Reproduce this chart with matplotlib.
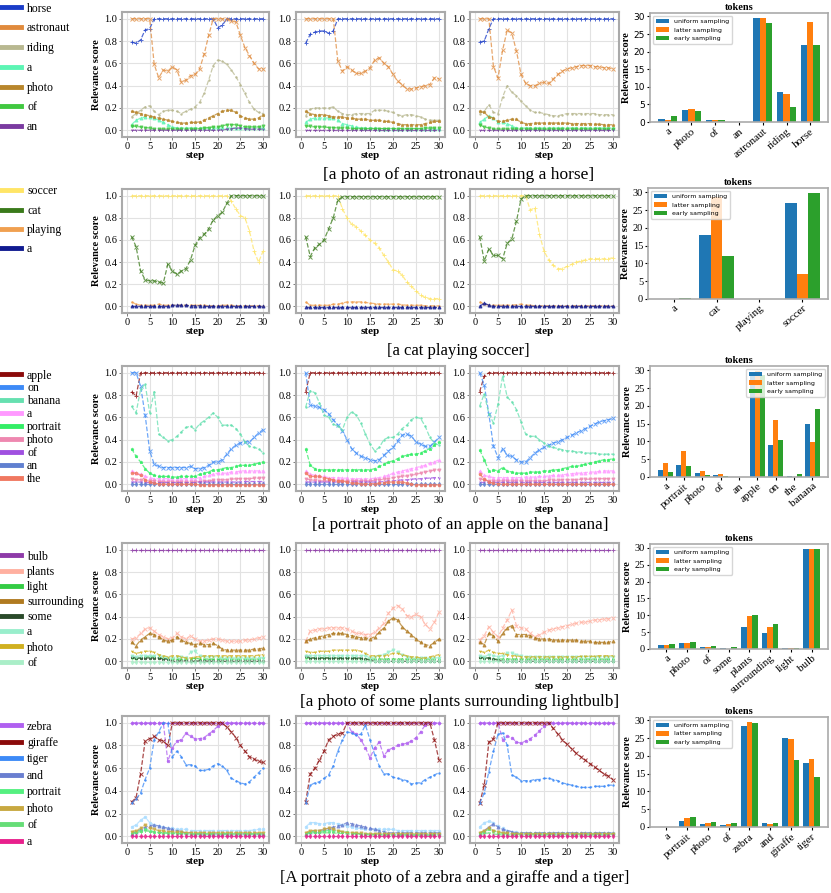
import matplotlib
matplotlib.use('Agg')
import matplotlib.pyplot as plt
from matplotlib.lines import Line2D

plt.rcParams['font.family'] = ['Liberation Serif', 'DejaVu Serif']

steps = list(range(1, 31))

# ---------------- row 1: a photo of an astronaut riding a horse
r1_tokens = ['horse', 'astronaut', 'riding', 'a', 'photo', 'of', 'an']
r1_colors = ['#1a3cc8', '#e08a3c', '#b8b890', '#5cf5b4', '#b8862c', '#40c840', '#7a3aa0']
r1_p1 = [
    [0.79, 0.78, 0.81, 0.90, 0.91, 1, 1, 1, 1, 1, 1, 1, 1, 1, 1, 1, 1, 1, 1, 0.92, 0.94, 1, 1, 1, 1, 1, 1, 1, 1, 1],
    [1, 1, 1, 1, 1, 0.59, 0.47, 0.54, 0.53, 0.57, 0.54, 0.43, 0.45, 0.49, 0.50, 0.55, 0.68, 0.85, 1, 1, 1, 1, 0.98, 0.97, 0.85, 0.74, 0.67, 0.60, 0.55, 0.55],
    [0.12, 0.15, 0.18, 0.21, 0.22, 0.17, 0.14, 0.17, 0.18, 0.18, 0.17, 0.15, 0.17, 0.19, 0.21, 0.25, 0.33, 0.45, 0.58, 0.63, 0.62, 0.59, 0.54, 0.48, 0.41, 0.33, 0.25, 0.19, 0.16, 0.15],
    [0.05, 0.09, 0.11, 0.12, 0.12, 0.11, 0.09, 0.07, 0.05, 0.03, 0.02, 0.02, 0.02, 0.02, 0.02, 0.02, 0.02, 0.02, 0.02, 0.02, 0.02, 0.02, 0.02, 0.02, 0.02, 0.02, 0.02, 0.02, 0.02, 0.02],
    [0.17, 0.16, 0.15, 0.14, 0.13, 0.12, 0.11, 0.10, 0.09, 0.08, 0.07, 0.065, 0.065, 0.07, 0.07, 0.075, 0.09, 0.11, 0.13, 0.15, 0.17, 0.18, 0.18, 0.16, 0.13, 0.11, 0.10, 0.10, 0.11, 0.14],
    [0.04, 0.035, 0.03, 0.025, 0.02, 0.01, 0.01, 0.01, 0.01, 0.01, 0.01, 0.01, 0.01, 0.01, 0.01, 0.015, 0.02, 0.025, 0.03, 0.03, 0.04, 0.05, 0.05, 0.05, 0.04, 0.03, 0.03, 0.03, 0.03, 0.04],
    [0, 0, 0, 0, 0, 0, 0, 0, 0, 0, 0, 0, 0, 0, 0, 0, 0, 0, 0, 0, 0.005, 0.01, 0.015, 0.02, 0.02, 0.015, 0.01, 0.01, 0.01, 0.01],
]
r1_p2 = [
    [0.78, 0.86, 0.88, 0.89, 0.89, 0.87, 0.89, 1, 1, 1, 1, 1, 1, 1, 1, 1, 1, 1, 1, 1, 1, 1, 1, 1, 1, 1, 1, 1, 1, 1],
    [1, 1, 1, 1, 1, 1, 1, 0.62, 0.53, 0.57, 0.54, 0.51, 0.51, 0.53, 0.56, 0.63, 0.65, 0.60, 0.57, 0.50, 0.44, 0.41, 0.37, 0.37, 0.38, 0.39, 0.40, 0.41, 0.47, 0.46],
    [0.13, 0.19, 0.20, 0.20, 0.20, 0.20, 0.21, 0.17, 0.15, 0.14, 0.14, 0.15, 0.15, 0.15, 0.15, 0.18, 0.18, 0.18, 0.17, 0.16, 0.14, 0.13, 0.14, 0.14, 0.13, 0.12, 0.10, 0.09, 0.09, 0.09],
    [0.07, 0.10, 0.11, 0.11, 0.11, 0.11, 0.11, 0.09, 0.06, 0.05, 0.04, 0.03, 0.02, 0.02, 0.02, 0.02, 0.015, 0.015, 0.015, 0.015, 0.01, 0.01, 0.01, 0.01, 0.01, 0.01, 0.01, 0.01, 0.01, 0.01],
    [0.17, 0.15, 0.14, 0.14, 0.14, 0.13, 0.12, 0.12, 0.12, 0.11, 0.11, 0.10, 0.10, 0.10, 0.09, 0.09, 0.09, 0.08, 0.08, 0.07, 0.06, 0.05, 0.05, 0.05, 0.05, 0.05, 0.06, 0.07, 0.08, 0.08],
    [0.04, 0.035, 0.03, 0.03, 0.03, 0.025, 0.025, 0.02, 0.02, 0.02, 0.015, 0.015, 0.015, 0.015, 0.015, 0.015, 0.015, 0.015, 0.015, 0.015, 0.015, 0.015, 0.015, 0.015, 0.015, 0.015, 0.02, 0.02, 0.02, 0.02],
    [0, 0, 0, 0, 0, 0, 0, 0, 0, 0, 0, 0, 0, 0, 0, 0, 0, 0, 0, 0, 0, 0, 0, 0, 0, 0, 0, 0, 0, 0],
]
r1_p3 = [
    [0.79, 0.80, 0.91, 1, 1, 1, 1, 1, 1, 1, 1, 1, 1, 1, 1, 1, 1, 1, 1, 1, 1, 1, 1, 1, 1, 1, 1, 1, 1, 1],
    [1, 1, 1, 0.57, 0.47, 0.72, 0.90, 0.87, 0.71, 0.50, 0.42, 0.40, 0.40, 0.42, 0.43, 0.42, 0.46, 0.50, 0.53, 0.55, 0.56, 0.57, 0.58, 0.58, 0.58, 0.57, 0.57, 0.56, 0.56, 0.55],
    [0.15, 0.17, 0.23, 0.16, 0.15, 0.30, 0.40, 0.34, 0.31, 0.26, 0.22, 0.18, 0.16, 0.16, 0.15, 0.14, 0.13, 0.13, 0.14, 0.15, 0.15, 0.15, 0.15, 0.15, 0.15, 0.15, 0.14, 0.14, 0.14, 0.14],
    [0.07, 0.10, 0.13, 0.11, 0.07, 0.07, 0.06, 0.04, 0.02, 0.02, 0.02, 0.02, 0.02, 0.02, 0.02, 0.02, 0.02, 0.02, 0.02, 0.02, 0.02, 0.02, 0.02, 0.02, 0.02, 0.02, 0.02, 0.02, 0.02, 0.02],
    [0.17, 0.16, 0.12, 0.11, 0.08, 0.08, 0.09, 0.10, 0.10, 0.07, 0.06, 0.06, 0.065, 0.065, 0.065, 0.065, 0.065, 0.065, 0.065, 0.065, 0.06, 0.06, 0.06, 0.06, 0.06, 0.055, 0.055, 0.05, 0.05, 0.05],
    [0.05, 0.03, 0.02, 0.01, 0.01, 0.01, 0.01, 0.01, 0.01, 0.01, 0.01, 0.01, 0.01, 0.01, 0.01, 0.01, 0.01, 0.01, 0.01, 0.01, 0.01, 0.01, 0.01, 0.01, 0.01, 0.01, 0.01, 0.01, 0.01, 0.01],
    [0, 0, 0, 0, 0, 0, 0, 0, 0, 0, 0, 0, 0, 0, 0, 0, 0, 0, 0, 0, 0, 0, 0, 0, 0, 0, 0, 0, 0, 0],
]
r1_bar_tokens = ['a', 'photo', 'of', 'an', 'astronaut', 'riding', 'horse']
r1_uniform = [0.8, 3.5, 0.6, 0.1, 29.5, 8.6, 22.0]
r1_latter = [0.5, 3.8, 0.6, 0.1, 29.5, 7.9, 28.4]
r1_early = [1.6, 3.2, 0.5, 0.0, 28.0, 4.3, 22.0]
r1_caption = '[a photo of an astronaut riding a horse]'

# ---------------- row 2: a cat playing soccer
r2_tokens = ['soccer', 'cat', 'playing', 'a']
r2_colors = ['#ffe566', '#3a7a1a', '#f0a050', '#101a90']
r2_p1 = [
    [1, 1, 1, 1, 1, 1, 1, 1, 1, 1, 1, 1, 1, 1, 1, 1, 1, 1, 1, 1, 1, 1, 0.95, 0.88, 0.82, 0.80, 0.68, 0.50, 0.40, 0.50],
    [0.63, 0.54, 0.32, 0.24, 0.23, 0.23, 0.22, 0.21, 0.38, 0.32, 0.29, 0.32, 0.34, 0.42, 0.55, 0.62, 0.65, 0.70, 0.78, 0.82, 0.85, 0.93, 1, 1, 1, 1, 1, 1, 1, 1],
    [0.04, 0.02, 0.01, 0.01, 0.01, 0.01, 0.02, 0.01, 0.01, 0.01, 0.01, 0.01, 0.01, 0.01, 0.01, 0.01, 0.01, 0.005, 0.005, 0.005, 0.01, 0.01, 0.01, 0.005, 0.005, 0.005, 0.005, 0.005, 0.005, 0.005],
    [0, 0, 0, 0, 0, 0, 0, 0, 0, 0.01, 0.01, 0.01, 0.01, 0.005, 0.005, 0.005, 0, 0, 0, 0, 0, 0, 0, 0, 0, 0, 0, 0, 0, 0],
]
r2_p2 = [
    [1, 1, 1, 1, 1, 1, 1, 1, 0.88, 0.80, 0.74, 0.72, 0.68, 0.64, 0.60, 0.57, 0.53, 0.46, 0.40, 0.33, 0.32, 0.28, 0.22, 0.18, 0.14, 0.10, 0.08, 0.07, 0.07, 0.07],
    [0.63, 0.45, 0.53, 0.56, 0.60, 0.70, 0.80, 0.96, 0.99, 0.99, 0.99, 0.99, 0.99, 0.99, 0.99, 0.99, 0.99, 0.99, 0.99, 0.99, 0.99, 0.99, 0.99, 0.99, 0.99, 0.99, 0.99, 0.99, 0.99, 0.99],
    [0.04, 0.01, 0.01, 0.01, 0.01, 0.01, 0.02, 0.02, 0.03, 0.04, 0.04, 0.04, 0.04, 0.035, 0.03, 0.025, 0.02, 0.02, 0.02, 0.02, 0.02, 0.015, 0.01, 0.01, 0.01, 0.01, 0.005, 0.005, 0.005, 0.005],
    [-0.005, -0.005, -0.005, -0.005, -0.005, -0.005, -0.005, -0.005, -0.005, -0.005, -0.005, -0.005, -0.005, -0.005, -0.005, -0.005, -0.005, -0.005, -0.005, -0.005, -0.005, -0.005, -0.005, -0.005, -0.005, -0.005, -0.005, -0.005, -0.005, -0.005],
]
r2_p3 = [
    [1, 1, 1, 1, 1, 1, 1, 1, 1, 1, 1, 0.87, 0.89, 0.65, 0.50, 0.42, 0.37, 0.34, 0.34, 0.36, 0.38, 0.40, 0.41, 0.42, 0.43, 0.43, 0.43, 0.43, 0.43, 0.44],
    [0.63, 0.41, 0.52, 0.46, 0.46, 0.43, 0.57, 0.61, 0.77, 0.97, 1, 1, 1, 1, 1, 1, 1, 1, 1, 1, 1, 1, 1, 1, 1, 1, 1, 1, 1, 1],
    [0.04, 0.02, 0.01, 0.01, 0.01, 0.01, 0.01, 0.01, 0.015, 0.02, 0.01, 0.01, 0.005, 0.005, 0.005, 0.005, 0.005, 0.005, 0.005, 0.005, 0.005, 0.005, 0.005, 0.005, 0.005, 0.005, 0.005, 0.005, 0.005, 0.005],
    [0, 0.03, 0.01, 0, 0, 0, 0, 0, 0, 0, 0, 0, 0, 0, 0, 0, 0, 0, 0, 0, 0, 0, 0, 0, 0, 0, 0, 0, 0, 0],
]
r2_bar_tokens = ['a', 'cat', 'playing', 'soccer']
r2_uniform = [0.0, 18.0, 0.0, 27.0]
r2_latter = [0.0, 28.7, 0.1, 7.0]
r2_early = [0.2, 12.0, 0.0, 29.7]
r2_caption = '[a cat playing soccer]'

# ---------------- row 3: a portrait photo of an apple on the banana
r3_tokens = ['apple', 'on', 'banana', 'a', 'portrait', 'photo', 'of', 'an', 'the']
r3_colors = ['#8b0a0a', '#3d8af7', '#66e0b0', '#ff99ff', '#33ee66', '#ee88b0', '#a050e0', '#6080d0', '#f07860']
r3_p1 = [
    [0.83, 0.79, 1, 1, 1, 1, 1, 1, 1, 1, 1, 1, 1, 1, 1, 1, 1, 1, 1, 1, 1, 1, 1, 1, 1, 1, 1, 1, 1, 1],
    [1, 1, 0.88, 0.62, 0.30, 0.18, 0.16, 0.15, 0.15, 0.15, 0.15, 0.15, 0.15, 0.16, 0.14, 0.14, 0.15, 0.17, 0.20, 0.20, 0.22, 0.27, 0.32, 0.35, 0.37, 0.38, 0.38, 0.42, 0.46, 0.49],
    [0.70, 0.64, 0.85, 0.90, 0.64, 0.83, 0.45, 0.42, 0.39, 0.40, 0.43, 0.47, 0.51, 0.52, 0.49, 0.54, 0.57, 0.60, 0.64, 0.60, 0.53, 0.53, 0.53, 0.50, 0.45, 0.38, 0.34, 0.33, 0.32, 0.28],
    [0.12, 0.10, 0.09, 0.07, 0.06, 0.05, 0.05, 0.05, 0.05, 0.05, 0.05, 0.05, 0.05, 0.05, 0.05, 0.06, 0.07, 0.08, 0.09, 0.10, 0.10, 0.10, 0.11, 0.11, 0.12, 0.12, 0.12, 0.12, 0.12, 0.12],
    [0.32, 0.25, 0.20, 0.14, 0.10, 0.08, 0.07, 0.07, 0.07, 0.065, 0.065, 0.07, 0.07, 0.07, 0.07, 0.09, 0.10, 0.11, 0.13, 0.13, 0.14, 0.15, 0.15, 0.16, 0.17, 0.17, 0.17, 0.18, 0.19, 0.20],
    [0.05, 0.04, 0.04, 0.03, 0.03, 0.03, 0.025, 0.025, 0.02, 0.02, 0.02, 0.02, 0.02, 0.02, 0.02, 0.025, 0.03, 0.03, 0.035, 0.04, 0.04, 0.04, 0.045, 0.05, 0.05, 0.05, 0.05, 0.055, 0.055, 0.06],
    [0.02, 0.02, 0.02, 0.015, 0.015, 0.015, 0.015, 0.015, 0.015, 0.015, 0.015, 0.015, 0.015, 0.015, 0.015, 0.02, 0.02, 0.02, 0.02, 0.02, 0.02, 0.02, 0.02, 0.02, 0.02, 0.025, 0.025, 0.025, 0.025, 0.025],
    [0, 0, 0, 0, 0, 0, 0, 0, 0, 0, 0, 0, 0, 0, 0, 0, 0, 0, 0, 0, 0, 0, 0, 0, 0, 0, 0, 0, 0, 0],
    [0.10, 0.10, 0.08, 0.04, 0.02, 0.01, 0.005, 0, 0, 0, 0, 0, 0, 0, 0, -0.005, -0.005, -0.005, -0.005, -0.005, -0.005, -0.005, -0.005, -0.005, -0.005, -0.005, -0.005, -0.005, -0.005, -0.005],
]
r3_p2 = [
    [0.83, 1, 1, 1, 1, 1, 1, 1, 1, 1, 1, 1, 1, 1, 1, 1, 1, 1, 1, 1, 1, 1, 1, 1, 1, 1, 1, 1, 1, 1],
    [1, 0.71, 0.70, 0.69, 0.67, 0.63, 0.58, 0.53, 0.48, 0.40, 0.32, 0.28, 0.25, 0.24, 0.22, 0.21, 0.22, 0.26, 0.30, 0.33, 0.39, 0.44, 0.45, 0.43, 0.38, 0.36, 0.34, 0.34, 0.38, 0.42],
    [0.69, 0.84, 0.82, 0.73, 0.62, 0.60, 0.54, 0.52, 0.49, 0.60, 0.65, 0.62, 0.55, 0.45, 0.36, 0.30, 0.33, 0.40, 0.42, 0.42, 0.45, 0.50, 0.53, 0.58, 0.60, 0.59, 0.52, 0.42, 0.37, 0.35],
    [0.12, 0.09, 0.08, 0.07, 0.07, 0.06, 0.06, 0.06, 0.055, 0.055, 0.05, 0.05, 0.05, 0.05, 0.05, 0.055, 0.06, 0.07, 0.08, 0.10, 0.11, 0.12, 0.13, 0.14, 0.15, 0.16, 0.17, 0.19, 0.20, 0.22],
    [0.32, 0.17, 0.14, 0.13, 0.13, 0.13, 0.13, 0.13, 0.13, 0.13, 0.13, 0.13, 0.13, 0.13, 0.13, 0.14, 0.16, 0.18, 0.20, 0.21, 0.23, 0.25, 0.26, 0.27, 0.27, 0.28, 0.30, 0.32, 0.35, 0.38],
    [0.05, 0.04, 0.035, 0.03, 0.03, 0.03, 0.03, 0.03, 0.03, 0.03, 0.03, 0.03, 0.03, 0.03, 0.03, 0.035, 0.04, 0.045, 0.05, 0.06, 0.065, 0.07, 0.075, 0.08, 0.09, 0.10, 0.11, 0.12, 0.125, 0.13],
    [0.02, 0.02, 0.02, 0.02, 0.02, 0.02, 0.02, 0.02, 0.02, 0.02, 0.02, 0.02, 0.02, 0.02, 0.02, 0.02, 0.02, 0.025, 0.03, 0.03, 0.035, 0.04, 0.04, 0.045, 0.05, 0.05, 0.055, 0.055, 0.06, 0.06],
    [0, 0, 0, 0, 0, 0, 0, 0, 0, 0, 0, 0, 0, 0, 0, 0, 0, 0, 0, 0, 0, 0, 0, 0, 0, 0, 0, 0, 0, 0],
    [0.10, 0.07, 0.07, 0.07, 0.06, 0.05, 0.04, 0.03, 0.03, 0.02, 0.01, 0.01, 0.005, 0.005, 0.005, 0.005, 0.01, 0.015, 0.02, 0.02, 0.02, 0.02, 0.01, 0, -0.005, -0.005, -0.005, -0.005, -0.005, -0.005],
]
r3_p3 = [
    [0.83, 0.97, 1, 1, 1, 1, 1, 1, 1, 1, 1, 1, 1, 1, 1, 1, 1, 1, 1, 1, 1, 1, 1, 1, 1, 1, 1, 1, 1, 1],
    [1, 0.89, 0.63, 0.34, 0.24, 0.32, 0.26, 0.25, 0.22, 0.20, 0.20, 0.24, 0.28, 0.31, 0.33, 0.35, 0.37, 0.38, 0.40, 0.42, 0.44, 0.46, 0.48, 0.50, 0.52, 0.54, 0.56, 0.57, 0.58, 0.59],
    [0.70, 0.81, 0.63, 0.55, 0.72, 0.97, 0.78, 0.74, 0.67, 0.56, 0.45, 0.43, 0.43, 0.40, 0.37, 0.34, 0.33, 0.32, 0.31, 0.30, 0.30, 0.29, 0.29, 0.28, 0.28, 0.28, 0.27, 0.27, 0.27, 0.27],
    [0.12, 0.08, 0.07, 0.06, 0.06, 0.06, 0.06, 0.06, 0.06, 0.06, 0.065, 0.065, 0.065, 0.07, 0.07, 0.075, 0.08, 0.08, 0.085, 0.09, 0.095, 0.10, 0.10, 0.105, 0.11, 0.11, 0.115, 0.12, 0.12, 0.12],
    [0.31, 0.22, 0.12, 0.13, 0.12, 0.15, 0.12, 0.11, 0.10, 0.10, 0.10, 0.11, 0.11, 0.11, 0.12, 0.12, 0.13, 0.13, 0.14, 0.15, 0.16, 0.16, 0.17, 0.18, 0.19, 0.20, 0.21, 0.22, 0.22, 0.23],
    [0.05, 0.04, 0.03, 0.03, 0.03, 0.03, 0.03, 0.03, 0.03, 0.03, 0.03, 0.03, 0.03, 0.03, 0.03, 0.035, 0.035, 0.035, 0.04, 0.04, 0.04, 0.04, 0.045, 0.045, 0.045, 0.05, 0.05, 0.05, 0.05, 0.05],
    [0.02, 0.02, 0.02, 0.02, 0.02, 0.02, 0.02, 0.02, 0.02, 0.02, 0.02, 0.02, 0.02, 0.02, 0.02, 0.02, 0.02, 0.02, 0.02, 0.02, 0.02, 0.02, 0.02, 0.02, 0.02, 0.02, 0.02, 0.02, 0.02, 0.02],
    [0, 0, 0, 0, 0, 0, 0, 0, 0, 0, 0, 0, 0, 0, 0, 0, 0, 0, 0, 0, 0, 0, 0, 0, 0, 0, 0, 0, 0, 0],
    [0.09, 0.05, 0.02, 0.01, 0.005, 0, 0, 0, 0, 0, 0, 0, 0, 0, 0, 0, 0, 0, 0, 0, 0, 0, 0, 0, 0, 0, 0, 0, 0, 0],
]
r3_bar_tokens = ['a', 'portrait', 'photo', 'of', 'an', 'apple', 'on', 'the', 'banana']
r3_uniform = [2.0, 3.3, 1.0, 0.5, 0.1, 29.3, 9.0, 0.3, 15.0]
r3_latter = [3.9, 7.3, 1.8, 0.9, 0.1, 29.7, 16.0, 0.0, 9.9]
r3_early = [1.3, 3.0, 0.5, 0.4, 0.0, 28.6, 10.3, 0.9, 19.0]
r3_caption = '[a portrait photo of an apple on the banana]'

# ---------------- row 4: a photo of some plants surrounding lightbulb
r4_tokens = ['bulb', 'plants', 'light', 'surrounding', 'some', 'a', 'photo', 'of']
r4_colors = ['#8e3aa8', '#ffb0a0', '#33cc44', '#b07a20', '#2a4a2a', '#99eecc', '#d0b020', '#aaeec8']
r4_p1 = [
    [1, 1, 1, 1, 1, 1, 1, 1, 1, 1, 1, 1, 1, 1, 1, 1, 1, 1, 1, 1, 1, 1, 1, 1, 1, 1, 1, 1, 1, 1],
    [0.20, 0.21, 0.25, 0.29, 0.30, 0.27, 0.24, 0.22, 0.20, 0.21, 0.25, 0.22, 0.20, 0.23, 0.20, 0.18, 0.18, 0.19, 0.20, 0.20, 0.19, 0.18, 0.18, 0.18, 0.18, 0.19, 0.19, 0.20, 0.21, 0.22],
    [0.03, 0.02, 0.03, 0.04, 0.04, 0.04, 0.03, 0.03, 0.02, 0.02, 0.02, 0.02, 0.02, 0.02, 0.03, 0.02, 0.02, 0.02, 0.02, 0.02, 0.02, 0.02, 0.02, 0.02, 0.02, 0.02, 0.02, 0.02, 0.02, 0.03],
    [0.17, 0.14, 0.19, 0.22, 0.25, 0.24, 0.22, 0.19, 0.18, 0.19, 0.22, 0.19, 0.17, 0.16, 0.15, 0.16, 0.15, 0.15, 0.16, 0.14, 0.11, 0.10, 0.10, 0.10, 0.10, 0.10, 0.10, 0.11, 0.11, 0.12],
    [0.04, 0.03, 0.03, 0.03, 0.03, 0.03, 0.03, 0.02, 0.02, 0, 0, 0.005, 0.005, 0, 0, 0.005, 0.005, 0, 0, 0, 0, 0, 0, 0, 0, 0, 0, 0, 0, 0],
    [0.05, 0.04, 0.05, 0.05, 0.05, 0.05, 0.05, 0.04, 0.03, 0.03, 0.04, 0.04, 0.03, 0.08, 0.09, 0.05, 0.04, 0.04, 0.04, 0.04, 0.03, 0.03, 0.03, 0.03, 0.03, 0.03, 0.03, 0.03, 0.03, 0.03],
    [0.09, 0.07, 0.08, 0.09, 0.09, 0.08, 0.06, 0.05, 0.04, 0.05, 0.05, 0.04, 0.03, 0.03, 0.04, 0.04, 0.05, 0.05, 0.05, 0.05, 0.05, 0.05, 0.05, 0.05, 0.05, 0.05, 0.05, 0.05, 0.055, 0.06],
    [-0.005, -0.005, -0.005, -0.005, -0.005, -0.005, -0.005, -0.005, -0.005, -0.005, -0.005, -0.005, -0.005, -0.005, -0.005, -0.005, -0.005, -0.005, -0.005, -0.005, -0.005, -0.005, -0.005, -0.005, -0.005, -0.005, -0.005, -0.005, -0.005, -0.005],
]
r4_p2 = [
    [1, 1, 1, 1, 1, 1, 1, 1, 1, 1, 1, 1, 1, 1, 1, 1, 1, 1, 1, 1, 1, 1, 1, 1, 1, 1, 1, 1, 1, 1],
    [0.18, 0.27, 0.28, 0.29, 0.29, 0.30, 0.30, 0.30, 0.30, 0.29, 0.27, 0.25, 0.25, 0.24, 0.24, 0.26, 0.30, 0.34, 0.43, 0.48, 0.50, 0.47, 0.41, 0.40, 0.42, 0.40, 0.33, 0.29, 0.35, 0.44],
    [0.03, 0.03, 0.03, 0.03, 0.03, 0.03, 0.03, 0.03, 0.03, 0.03, 0.03, 0.03, 0.02, 0.02, 0.02, 0.02, 0.02, 0.02, 0.02, 0.02, 0.02, 0.02, 0.02, 0.02, 0.02, 0.02, 0.02, 0.02, 0.02, 0.02],
    [0.18, 0.20, 0.21, 0.22, 0.23, 0.24, 0.25, 0.25, 0.25, 0.24, 0.23, 0.22, 0.21, 0.21, 0.20, 0.22, 0.26, 0.30, 0.36, 0.39, 0.37, 0.31, 0.27, 0.24, 0.20, 0.17, 0.15, 0.14, 0.17, 0.20],
    [0.05, 0.03, 0.03, 0.03, 0.03, 0.03, 0.03, 0.03, 0.03, 0.03, 0.03, 0.03, 0.03, 0.02, 0.01, 0, 0, 0, 0, 0, 0, 0, 0, 0, 0, 0, 0, 0, 0, 0],
    [0.05, 0.05, 0.05, 0.05, 0.05, 0.05, 0.05, 0.05, 0.05, 0.05, 0.05, 0.05, 0.05, 0.05, 0.03, 0.04, 0.05, 0.06, 0.08, 0.10, 0.08, 0.06, 0.04, 0.03, 0.03, 0.03, 0.03, 0.03, 0.03, 0.03],
    [0.09, 0.08, 0.08, 0.09, 0.09, 0.09, 0.10, 0.10, 0.10, 0.10, 0.10, 0.10, 0.09, 0.07, 0.05, 0.05, 0.05, 0.05, 0.06, 0.07, 0.07, 0.06, 0.05, 0.04, 0.04, 0.03, 0.03, 0.04, 0.05, 0.06],
    [0, 0, 0, 0, 0, 0, 0, 0, 0, 0, 0, 0, 0, 0, 0, 0, 0, 0, 0, 0, 0, 0, 0, 0, 0, 0, 0, 0, 0, 0],
]
r4_p3 = [
    [1, 1, 1, 1, 1, 1, 1, 1, 1, 1, 1, 1, 1, 1, 1, 1, 1, 1, 1, 1, 1, 1, 1, 1, 1, 1, 1, 1, 1, 1],
    [0.19, 0.23, 0.31, 0.26, 0.22, 0.30, 0.37, 0.46, 0.32, 0.30, 0.29, 0.25, 0.22, 0.24, 0.26, 0.28, 0.29, 0.30, 0.31, 0.32, 0.33, 0.34, 0.35, 0.35, 0.36, 0.37, 0.37, 0.38, 0.38, 0.39],
    [0.03, 0.03, 0.03, 0.02, 0.02, 0.02, 0.02, 0.02, 0.02, 0.02, 0.02, 0.02, 0.02, 0.02, 0.02, 0.02, 0.02, 0.02, 0.02, 0.02, 0.02, 0.02, 0.02, 0.02, 0.02, 0.02, 0.02, 0.02, 0.02, 0.02],
    [0.17, 0.15, 0.25, 0.23, 0.18, 0.25, 0.30, 0.32, 0.24, 0.24, 0.24, 0.23, 0.21, 0.20, 0.20, 0.20, 0.19, 0.19, 0.19, 0.19, 0.19, 0.19, 0.18, 0.18, 0.18, 0.17, 0.17, 0.17, 0.17, 0.18],
    [0.04, 0.03, 0.03, 0.02, 0.01, 0, 0, 0, 0, 0, 0, 0, 0, 0, 0, 0, 0, 0, 0, 0, 0, 0, 0, 0, 0, 0, 0, 0, 0, 0],
    [0.05, 0.04, 0.06, 0.05, 0.04, 0.05, 0.07, 0.07, 0.06, 0.05, 0.04, 0.04, 0.04, 0.04, 0.04, 0.04, 0.04, 0.04, 0.04, 0.04, 0.04, 0.04, 0.04, 0.04, 0.04, 0.04, 0.04, 0.04, 0.04, 0.04],
    [0.09, 0.08, 0.10, 0.08, 0.07, 0.07, 0.06, 0.05, 0.05, 0.04, 0.04, 0.04, 0.04, 0.04, 0.04, 0.04, 0.04, 0.04, 0.04, 0.04, 0.04, 0.04, 0.045, 0.045, 0.045, 0.045, 0.05, 0.05, 0.05, 0.05],
    [0, 0, 0, 0, 0, 0, 0, 0, 0, 0, 0, 0, 0, 0, 0, 0, 0, 0, 0, 0, 0, 0, 0, 0, 0, 0, 0, 0, 0, 0],
]
r4_bar_tokens = ['a', 'photo', 'of', 'some', 'plants', 'surrounding', 'light', 'bulb']
r4_uniform = [1.1, 1.7, 0.7, 0.3, 6.5, 4.8, 0.4, 29.7]
r4_latter = [1.2, 1.7, 0.6, 0.1, 9.7, 6.5, 0.4, 29.7]
r4_early = [1.4, 2.2, 1.0, 0.5, 10.0, 7.3, 0.4, 29.7]
r4_caption = '[a photo of some plants surrounding lightbulb]'

# ---------------- row 5: A portrait photo of a zebra and a giraffe and a tiger
r5_tokens = ['zebra', 'giraffe', 'tiger', 'and', 'portrait', 'photo', 'of', 'a']
r5_colors = ['#b060f0', '#8b0a0a', '#3d8af7', '#6a7fd0', '#55f080', '#c8a840', '#66dd77', '#e8208c']
r5_p1 = [
    [1, 1, 1, 1, 1, 1, 1, 1, 1, 1, 1, 1, 1, 1, 1, 1, 1, 1, 1, 1, 1, 1, 1, 1, 1, 1, 1, 1, 1, 1],
    [0.30, 0.34, 0.55, 0.84, 0.86, 0.88, 0.85, 0.84, 0.80, 1, 1, 1, 1, 1, 1, 1, 1, 1, 1, 1, 1, 0.96, 0.92, 0.87, 0.80, 0.75, 0.70, 0.68, 0.66, 0.65],
    [0.29, 0.33, 0.38, 0.50, 0.60, 0.85, 0.92, 1, 1, 0.70, 0.75, 0.70, 0.63, 0.63, 0.62, 0.58, 0.58, 0.59, 0.62, 0.64, 0.62, 0.58, 0.51, 0.49, 0.47, 0.46, 0.48, 0.52, 0.56, 0.60],
    [0.02, 0.04, 0.06, 0.08, 0.09, 0.10, 0.09, 0.08, 0.07, 0.06, 0.05, 0.04, 0.03, 0.03, 0.02, 0.02, 0.02, 0.02, 0.02, 0.02, 0.02, 0.02, 0.02, 0.02, 0.02, 0.02, 0.02, 0.02, 0.02, 0.02],
    [0.03, 0.04, 0.05, 0.06, 0.05, 0.04, 0.035, 0.03, 0.03, 0.03, 0.03, 0.025, 0.025, 0.02, 0.02, 0.02, 0.02, 0.02, 0.02, 0.02, 0.02, 0.02, 0.02, 0.02, 0.02, 0.02, 0.02, 0.02, 0.02, 0.02],
    [0.04, 0.05, 0.07, 0.10, 0.07, 0.06, 0.05, 0.045, 0.04, 0.04, 0.035, 0.035, 0.03, 0.03, 0.03, 0.03, 0.03, 0.03, 0.03, 0.03, 0.03, 0.03, 0.03, 0.03, 0.03, 0.03, 0.03, 0.03, 0.03, 0.03],
    [0.02, 0.03, 0.04, 0.05, 0.04, 0.035, 0.03, 0.03, 0.025, 0.025, 0.02, 0.02, 0.02, 0.02, 0.02, 0.02, 0.02, 0.02, 0.02, 0.02, 0.02, 0.02, 0.02, 0.02, 0.02, 0.02, 0.02, 0.02, 0.02, 0.02],
    [0, 0, 0, 0, 0, 0, 0, 0, 0, 0, 0, 0, 0, 0, 0, 0, 0, 0, 0, 0, 0, 0, 0, 0, 0, 0, 0, 0, 0, 0],
]
r5_p2 = [
    [1, 1, 1, 1, 1, 1, 1, 1, 1, 1, 1, 1, 1, 1, 1, 1, 1, 1, 1, 1, 1, 1, 1, 1, 1, 1, 1, 1, 1, 1],
    [0.30, 0.55, 0.60, 0.67, 0.75, 0.85, 0.88, 0.90, 0.91, 1, 1, 1, 1, 1, 1, 1, 1, 1, 1, 1, 1, 1, 1, 1, 1, 1, 1, 1, 0.85, 0.67],
    [0.29, 0.45, 0.47, 0.48, 0.51, 0.54, 0.62, 0.75, 0.85, 0.92, 0.91, 0.89, 0.90, 0.98, 0.85, 0.72, 0.62, 0.55, 0.55, 0.52, 0.51, 0.50, 0.49, 0.46, 0.47, 0.47, 0.50, 0.52, 0.54, 0.56],
    [0.02, 0.04, 0.05, 0.05, 0.06, 0.07, 0.08, 0.09, 0.10, 0.12, 0.11, 0.10, 0.09, 0.08, 0.07, 0.06, 0.05, 0.04, 0.03, 0.03, 0.03, 0.03, 0.03, 0.03, 0.03, 0.03, 0.03, 0.03, 0.03, 0.03],
    [0.02, 0.04, 0.04, 0.04, 0.045, 0.05, 0.05, 0.045, 0.04, 0.035, 0.03, 0.025, 0.02, 0.02, 0.02, 0.015, 0.015, 0.015, 0.01, 0.01, 0.01, 0.01, 0.01, 0.01, 0.01, 0.01, 0.01, 0.01, 0.01, 0.01],
    [0.03, 0.05, 0.05, 0.05, 0.06, 0.07, 0.06, 0.05, 0.04, 0.03, 0.03, 0.025, 0.025, 0.02, 0.02, 0.02, 0.02, 0.02, 0.02, 0.02, 0.02, 0.02, 0.02, 0.02, 0.02, 0.02, 0.02, 0.02, 0.02, 0.02],
    [0.02, 0.03, 0.03, 0.03, 0.03, 0.03, 0.03, 0.025, 0.025, 0.02, 0.02, 0.02, 0.015, 0.015, 0.01, 0.01, 0.01, 0.01, 0.01, 0.01, 0.01, 0.01, 0.01, 0.01, 0.01, 0.01, 0.01, 0.01, 0.01, 0.01],
    [0, 0, 0, 0, 0, 0, 0, 0, 0, 0, 0, 0, 0, 0, 0, 0, 0, 0, 0, 0, 0, 0, 0, 0, 0, 0, 0, 0, 0, 0],
]
r5_p3 = [
    [1, 1, 1, 1, 1, 1, 1, 1, 1, 1, 1, 1, 1, 1, 1, 1, 1, 1, 1, 1, 1, 1, 1, 1, 1, 1, 1, 1, 1, 1],
    [0.29, 0.45, 0.83, 0.86, 1, 1, 1, 1, 1, 1, 1, 1, 1, 1, 1, 1, 0.95, 0.90, 0.85, 0.81, 0.77, 0.73, 0.70, 0.67, 0.64, 0.61, 0.58, 0.55, 0.53, 0.50],
    [0.29, 0.38, 0.57, 0.75, 0.90, 0.91, 0.80, 0.54, 0.52, 0.49, 0.49, 0.49, 0.50, 0.50, 0.51, 0.51, 0.50, 0.49, 0.47, 0.46, 0.45, 0.44, 0.43, 0.43, 0.43, 0.44, 0.44, 0.44, 0.45, 0.45],
    [0.02, 0.05, 0.08, 0.11, 0.08, 0.06, 0.05, 0.04, 0.03, 0.03, 0.03, 0.03, 0.03, 0.03, 0.03, 0.03, 0.03, 0.03, 0.03, 0.03, 0.03, 0.03, 0.03, 0.03, 0.03, 0.03, 0.03, 0.03, 0.03, 0.03],
    [0.03, 0.04, 0.06, 0.05, 0.03, 0.025, 0.02, 0.02, 0.02, 0.02, 0.02, 0.02, 0.02, 0.02, 0.02, 0.02, 0.02, 0.02, 0.02, 0.02, 0.02, 0.02, 0.02, 0.02, 0.02, 0.02, 0.02, 0.02, 0.02, 0.02],
    [0.03, 0.05, 0.07, 0.05, 0.04, 0.03, 0.025, 0.02, 0.02, 0.02, 0.02, 0.02, 0.02, 0.02, 0.02, 0.02, 0.02, 0.02, 0.02, 0.02, 0.02, 0.02, 0.02, 0.02, 0.02, 0.02, 0.02, 0.02, 0.02, 0.02],
    [0.02, 0.02, 0.03, 0.02, 0.015, 0.01, 0.01, 0.01, 0.01, 0.01, 0.01, 0.01, 0.01, 0.01, 0.01, 0.01, 0.01, 0.01, 0.01, 0.01, 0.01, 0.01, 0.01, 0.01, 0.01, 0.01, 0.01, 0.01, 0.01, 0.01],
    [0, 0, 0, 0, 0, 0, 0, 0, 0, 0, 0, 0, 0, 0, 0, 0, 0, 0, 0, 0, 0, 0, 0, 0, 0, 0, 0, 0, 0, 0],
]
# sub-token curves drawn in row 5 without a legend entry
r5_extra_colors = ['#b060f0', '#a8dcff']
r5_extra_p1 = [
    [1, 1, 1, 1, 1, 1, 1, 1, 0.66, 0.78, 0.84, 0.85, 0.91, 0.88, 0.86, 0.86, 0.87, 0.90, 0.93, 0.97, 1, 1, 1, 1, 1, 1, 1, 1, 1, 1],
    [0.08, 0.10, 0.14, 0.17, 0.12, 0.10, 0.09, 0.08, 0.07, 0.07, 0.06, 0.06, 0.06, 0.05, 0.05, 0.05, 0.05, 0.05, 0.05, 0.05, 0.05, 0.05, 0.05, 0.05, 0.05, 0.05, 0.05, 0.055, 0.06, 0.06],
]
r5_extra_p2 = [
    [1, 1, 1, 1, 1, 1, 1, 1, 1, 1, 0.92, 0.90, 0.85, 0.78, 0.69, 0.78, 0.83, 0.71, 0.76, 0.78, 0.80, 0.81, 0.82, 0.84, 0.87, 0.92, 0.98, 1, 1, 1],
    [0.08, 0.12, 0.12, 0.11, 0.11, 0.12, 0.12, 0.11, 0.10, 0.09, 0.08, 0.07, 0.07, 0.06, 0.06, 0.06, 0.06, 0.06, 0.06, 0.06, 0.05, 0.05, 0.05, 0.05, 0.05, 0.05, 0.05, 0.05, 0.05, 0.05],
]
r5_extra_p3 = [
    [1, 1, 1, 1, 1, 0.85, 0.88, 0.87, 0.83, 0.82, 0.84, 0.86, 0.89, 0.93, 0.97, 1, 1, 1, 1, 1, 1, 1, 1, 1, 1, 1, 1, 1, 1, 1],
    [0.08, 0.12, 0.13, 0.12, 0.09, 0.07, 0.05, 0.04, 0.035, 0.03, 0.03, 0.03, 0.03, 0.03, 0.03, 0.03, 0.03, 0.03, 0.03, 0.03, 0.03, 0.03, 0.03, 0.03, 0.03, 0.03, 0.03, 0.03, 0.03, 0.03],
]
r5_bar_tokens = ['a', 'portrait', 'photo', 'of', 'zebra', 'and', 'giraffe', 'tiger']
r5_uniform = [0.0, 1.8, 0.9, 0.7, 28.3, 1.2, 25.0, 18.0]
r5_latter = [0.0, 2.5, 1.1, 0.8, 29.5, 0.9, 24.8, 19.2]
r5_early = [0.0, 2.7, 1.3, 1.0, 29.2, 1.2, 19.0, 14.2]
r5_caption = '[A portrait photo of a zebra and a giraffe and a tiger]'

sampling_names = ['uniform sampling', 'latter sampling', 'early sampling']
sampling_colors = ['#1f77b4', '#ff7f0e', '#2ca02c']
markers = ['+', 'x', '.', '^', '*', 'v', '1', 'd', 'p']

W, H = 831, 893
fig = plt.figure(figsize=(W / 100, H / 100), dpi=100)


def px_axes(l, t, r, b):
    return fig.add_axes([l / W, 1 - b / H, (r - l) / W, (b - t) / H])


def line_panel(ax, series, colors, first, extra=None, extra_colors=None):
    if extra:
        for vals, c in zip(extra, extra_colors):
            ax.plot(steps, vals, color=c, ls='--', lw=0.9, marker='*', ms=2.2, alpha=0.75)
    for i, (vals, c) in enumerate(zip(series, colors)):
        ax.plot(steps, vals, color=c, ls='--', lw=0.9, marker=markers[i % len(markers)],
                ms=2.2, mew=0.7, alpha=0.75)
    ax.set_xlim(-1.1, 31.3)
    ax.set_ylim(-0.06, 1.06)
    ax.set_xticks(range(0, 31, 5))
    ax.set_yticks([0, 0.2, 0.4, 0.6, 0.8, 1.0])
    ax.grid(color='#e2e2e2', lw=0.8)
    ax.set_axisbelow(True)
    for s in ax.spines.values():
        s.set_color('#aaaaaa')
        s.set_linewidth(1.5)
    ax.tick_params(labelsize=7.5, length=2.5, width=0.6, color='#666666', pad=1)
    ax.set_xlabel('step', fontweight='bold', fontsize=8, labelpad=0)
    if first:
        ax.set_ylabel('Relevance score', fontweight='bold', fontsize=7.5, labelpad=2)


def bar_panel(ax, tokens, uniform, latter, early, loc, sans):
    x = list(range(len(tokens)))
    w = 0.27
    for k, vals in enumerate([uniform, latter, early]):
        ax.bar([i + (k - 1) * w for i in x], vals, w, color=sampling_colors[k],
               label=sampling_names[k])
    ax.set_xticks(x)
    ax.set_xticklabels(tokens, rotation=40, ha='right', rotation_mode='anchor', fontsize=8)
    ax.set_yticks([0, 5, 10, 15, 20, 25, 30])
    ax.tick_params(axis='y', labelsize=7.5, length=2.5, pad=1)
    ax.tick_params(axis='x', length=2.5, pad=1)
    if sans:
        for t in ax.get_yticklabels():
            t.set_family('DejaVu Sans')
            t.set_fontsize(6.5)
    for s in ax.spines.values():
        s.set_color('#aaaaaa')
        s.set_linewidth(1.2)
    ax.set_title('tokens', fontweight='bold', fontsize=7.5, pad=2)
    ax.set_ylabel('Relevance score', fontweight='bold', fontsize=7.5, labelpad=2)
    ax.legend(loc=loc, handlelength=2.2, prop={'family': 'DejaVu Sans', 'size': 4.5})


rows = [
    dict(tokens=r1_tokens, colors=r1_colors, panels=[r1_p1, r1_p2, r1_p3],
         bar=(r1_bar_tokens, r1_uniform, r1_latter, r1_early), caption=r1_caption,
         top=12, bottom=137, btop=13, bbottom=122, bleft=650, cap_y=175, cap_x=459, cap_fs=12.5,
         leg_top=2.5, leg_ls=0.66, loc='upper left', sans=True),
    dict(tokens=r2_tokens, colors=r2_colors, panels=[r2_p1, r2_p2, r2_p3],
         bar=(r2_bar_tokens, r2_uniform, r2_latter, r2_early), caption=r2_caption,
         top=189, bottom=313, btop=188, bbottom=299, bleft=648, cap_y=351, cap_x=458, cap_fs=12,
         leg_top=185.5, leg_ls=0.62, loc='upper left', sans=False),
    dict(tokens=r3_tokens, colors=r3_colors, panels=[r3_p1, r3_p2, r3_p3],
         bar=(r3_bar_tokens, r3_uniform, r3_latter, r3_early), caption=r3_caption,
         top=366, bottom=491, btop=366, bbottom=477, bleft=650, cap_y=525, cap_x=460, cap_fs=12.3,
         leg_top=369.5, leg_ls=0.08, loc='upper right', sans=False),
    dict(tokens=r4_tokens, colors=r4_colors, panels=[r4_p1, r4_p2, r4_p3],
         bar=(r4_bar_tokens, r4_uniform, r4_latter, r4_early), caption=r4_caption,
         top=543, bottom=668, btop=544, bbottom=649, bleft=650, cap_y=702, cap_x=460, cap_fs=12.3,
         leg_top=550.5, leg_ls=0.27, loc='upper left', sans=False),
    dict(tokens=r5_tokens, colors=r5_colors, panels=[r5_p1, r5_p2, r5_p3],
         bar=(r5_bar_tokens, r5_uniform, r5_latter, r5_early), caption=r5_caption,
         top=716, bottom=843, btop=717, bbottom=827, bleft=650, cap_y=878, cap_x=455, cap_fs=12,
         leg_top=720.5, leg_ls=0.38, loc='upper left', sans=False),
]
extras = [None, None, None, None, [r5_extra_p1, r5_extra_p2, r5_extra_p3]]
panel_x = [(122, 269), (296, 445), (470, 619)]

for r, row in enumerate(rows):
    for p, (l, rr) in enumerate(panel_x):
        ax = px_axes(l, row['top'], rr, row['bottom'])
        ex = extras[r][p] if extras[r] else None
        line_panel(ax, row['panels'][p], row['colors'], p == 0, ex, r5_extra_colors)
    bax = px_axes(row['bleft'], row['btop'], 828, row['bbottom'])
    bar_panel(bax, *row['bar'], row['loc'], row['sans'])
    handles = [Line2D([], [], color=c, lw=3.5) for c in row['colors']]
    fig.legend(handles, row['tokens'], loc='upper left', bbox_to_anchor=(-3 / W, 1 - row['leg_top'] / H),
               frameon=False, fontsize=8.5, handlelength=2.0, handletextpad=0.55,
               labelspacing=row['leg_ls'], borderpad=0, borderaxespad=0)
    fig.text(row['cap_x'] / W, 1 - row['cap_y'] / H, row['caption'], ha='center', va='center',
             fontsize=row['cap_fs'])

fig.savefig('out.png', dpi=100)
